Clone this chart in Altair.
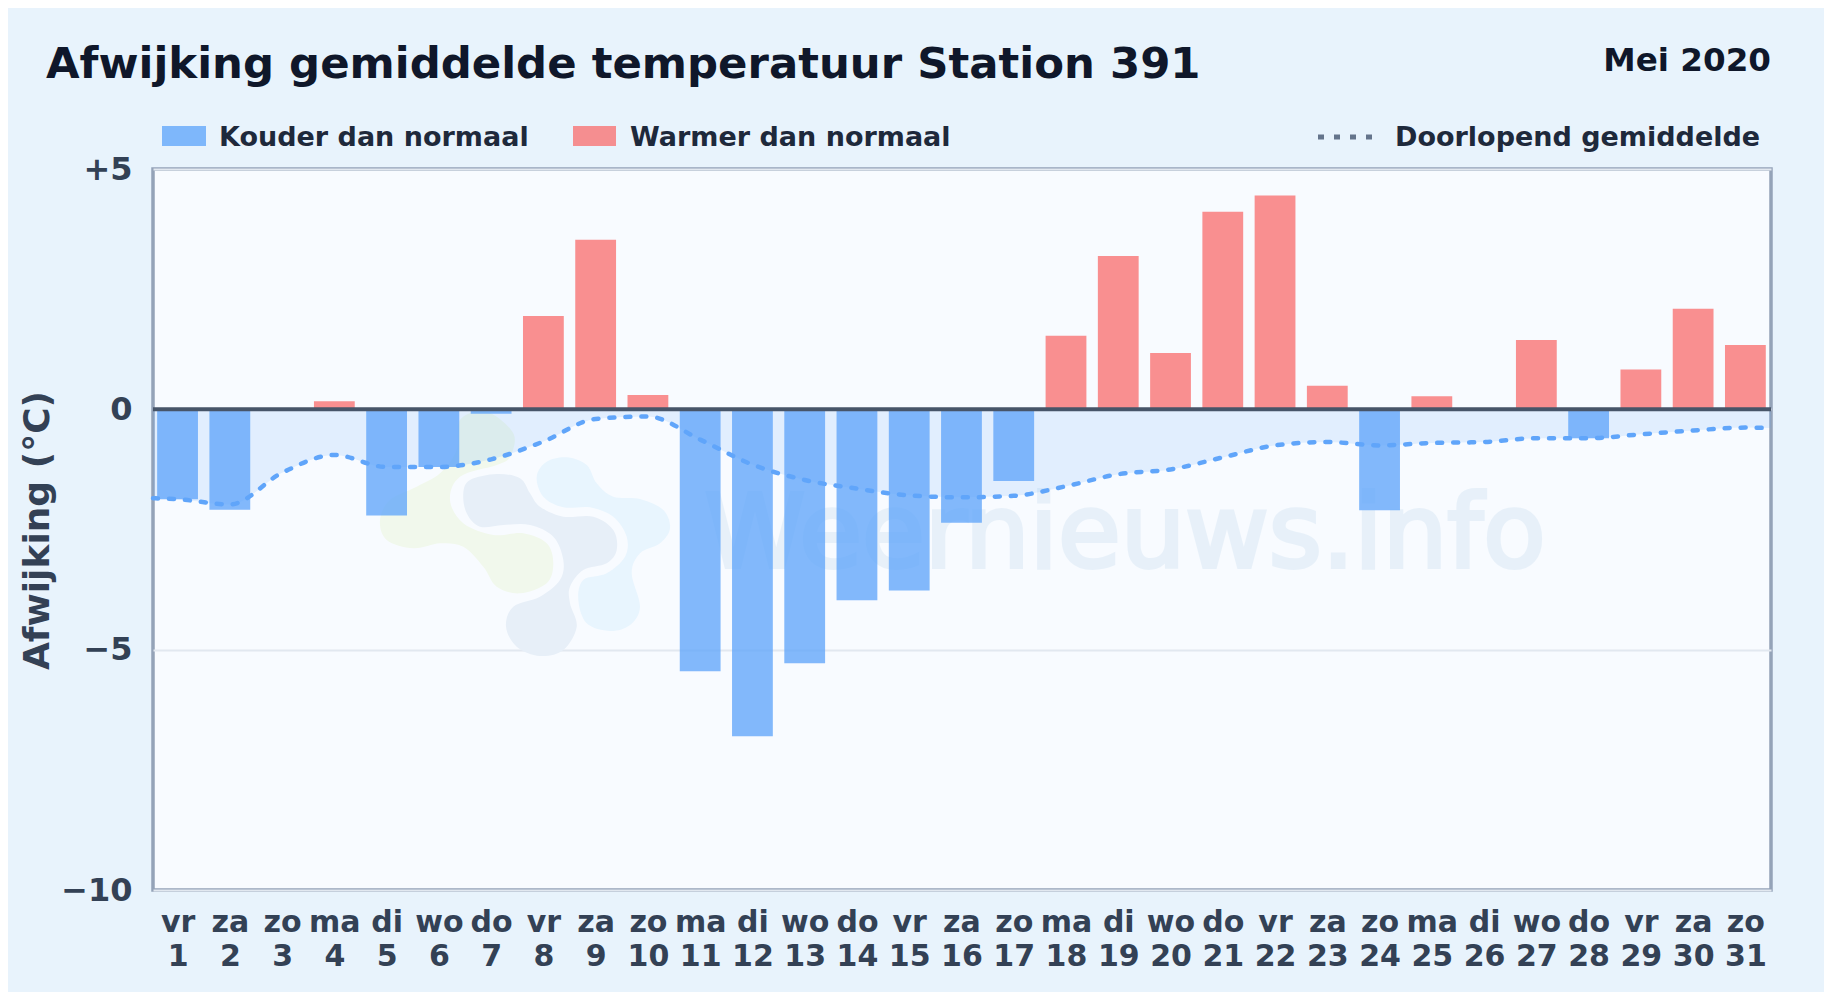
import altair as alt
import pandas as pd

days = list(range(1, 32))
weekdays = ["vr","za","zo","ma","di","wo","do","vr","za","zo","ma","di","wo","do","vr","za","zo","ma","di","wo","do","vr","za","zo","ma","di","wo","do","vr","za","zo"]
anomaly = [-1.87,-2.09,0.0,0.17,-2.21,-1.2,-0.09,1.94,3.53,0.3,-5.45,-6.8,-5.28,-3.97,-3.77,-2.36,-1.49,1.53,3.19,1.17,4.11,4.45,0.49,-2.1,0.27,0.0,1.44,-0.6,0.83,2.09,1.34]
running_mean = [-1.87,-1.98,-1.32,-0.95,-1.2,-1.2,-1.04,-0.67,-0.2,-0.15,-0.63,-1.15,-1.47,-1.65,-1.79,-1.83,-1.8,-1.6,-1.35,-1.25,-1.0,-0.75,-0.68,-0.75,-0.7,-0.68,-0.6,-0.6,-0.52,-0.44,-0.38]
mean_days = [0.53] + days + [31.49]
mean_values = [-1.85] + running_mean + [-0.39]
cold_label = "Kouder dan normaal"
warm_label = "Warmer dan normaal"
mean_label = "Doorlopend gemiddelde"
title_text = "Afwijking gemiddelde temperatuur Station 391"
period_text = "Mei 2020"
watermark_text = "Weernieuws.info"

FONT = "DejaVu Sans"
PL, PT = 153, 169
W, H = 1618, 721

bars = pd.DataFrame({"day": days, "value": anomaly})
bars["kind"] = [warm_label if v > 0 else cold_label for v in anomaly]
mean_df = pd.DataFrame({"day": mean_days, "value": mean_values})

x_scale = alt.Scale(domain=[0.53, 31.49], nice=False, zero=False, padding=0)
y_scale = alt.Scale(domain=[-10, 5], nice=False, zero=False)
names = "[" + ",".join(f"'{d}'" for d in weekdays) + "]"
x_axis = alt.Axis(values=days, title=None, grid=False, ticks=False, domain=False,
                  labelExpr=f"[{names}[datum.value-1], ''+datum.value]",
                  labelFont=FONT, labelFontSize=30, labelFontWeight="bold", labelColor="#334155",
                  labelLineHeight=34, labelPadding=17, labelOverlap=False, labelFlush=False, labelBound=False,
                  labelAngle=0)
y_axis = alt.Axis(values=[-10, -5, 0, 5], title="Afwijking (°C)", grid=True, gridColor="#e2e8f0", gridWidth=2,
                  ticks=False, domain=False,
                  labelExpr="datum.value>0?'+'+datum.value:(datum.value<0?'−'+(-datum.value):'0')",
                  labelFont=FONT, labelFontSize=32, labelFontWeight="bold", labelColor="#334155",
                  labelPadding=21, labelFlush=False, labelBound=False, labelOverlap=False,
                  titleFont=FONT, titleFontSize=36, titleFontWeight="bold", titleColor="#334155",
                  titleX=-97, titleY=361)
X = alt.X("day:Q", scale=x_scale, axis=x_axis)
Y = alt.Y("value:Q", scale=y_scale, axis=y_axis)


def blob(points, ox=350, oy=400, k=1 / 3, cx=500, cy=550):
    """Closed smooth outline as an SVG path, relative to (cx, cy)."""
    p = [(ox + a * k - cx, oy + b * k - cy) for a, b in points]
    n = len(p)
    s = f"M{p[0][0]:.1f},{p[0][1]:.1f}"
    for i in range(n):
        p0, p1, p2, p3 = p[i - 1], p[i], p[(i + 1) % n], p[(i + 2) % n]
        c1 = (p1[0] + (p2[0] - p0[0]) / 6, p1[1] + (p2[1] - p0[1]) / 6)
        c2 = (p2[0] - (p3[0] - p1[0]) / 6, p2[1] - (p3[1] - p1[1]) / 6)
        s += f"C{c1[0]:.1f},{c1[1]:.1f},{c2[0]:.1f},{c2[1]:.1f},{p2[0]:.1f},{p2[1]:.1f}"
    return s + "Z"


logo_green = [(330,60),(410,35),(490,100),(480,170),(440,195),(330,230),(300,300),(340,370),(430,405),(520,400),(590,430),(610,490),(590,550),(510,580),(440,560),(400,500),(340,440),(270,430),(190,445),(110,420),(90,360),(120,300),(200,260),(270,220),(320,150)]
logo_slate = [(340,280),(360,240),(440,222),(510,235),(540,280),(570,320),(640,350),(730,350),(790,390),(800,450),(770,490),(700,510),(660,560),(660,610),(680,680),(640,750),(570,768),(500,740),(468,680),(490,620),(570,590),(630,540),(640,480),(610,410),(540,375),(460,375),(390,380),(350,340)]
logo_blue = [(560,230),(590,185),(650,172),(710,195),(740,250),(790,290),(870,297),(940,330),(960,385),(930,430),(870,460),(845,520),(870,620),(840,675),(780,693),(710,670),(685,600),(700,540),(770,520),(825,470),(830,410),(790,350),(720,322),(640,322),(580,290)]

one = pd.DataFrame({"n": [0]})


def logo_part(points, color):
    return alt.Chart(one).mark_point(shape=blob(points), size=4, filled=True, fill=color, opacity=1, strokeWidth=0).encode(
        x=alt.value(500 - PL), y=alt.value(550 - PT))


def text_at(txt, px, py, size, color, align="left", weight="bold", baseline="middle", **kw):
    return alt.Chart(pd.DataFrame({"t": [txt]})).mark_text(
        font=FONT, fontSize=size, fontWeight=weight, color=color, align=align, baseline=baseline, **kw
    ).encode(text="t:N", x=alt.value(px - PL), y=alt.value(py - PT))


def swatch(px0, px1, py0, py1, color):
    return alt.Chart(one).mark_rect(color=color, opacity=0.78).encode(
        x=alt.value(px0 - PL), x2=alt.value(px1 - PL), y=alt.value(py0 - PT), y2=alt.value(py1 - PT))


area = alt.Chart(mean_df).mark_area(color="#60a5fa", opacity=0.15, interpolate="monotone").encode(
    x=X, y=Y, y2=alt.datum(0))
bar_layer = alt.Chart(bars).mark_bar(size=40.8, opacity=0.78).encode(
    x=X, y=Y, y2=alt.datum(0),
    color=alt.Color("kind:N", legend=None, scale=alt.Scale(domain=[cold_label, warm_label], range=["#60a5fa", "#f87171"])))
zero = alt.Chart(one).mark_rule(color="#475569", strokeWidth=4).encode(y=alt.Y(datum=0, scale=y_scale, axis=y_axis))
line = alt.Chart(mean_df).mark_line(color="#60a5fa", strokeWidth=4.5, strokeDash=[5, 11], strokeCap="round", interpolate="monotone").encode(
    x=X, y=Y)
legend_dots = alt.Chart(one).mark_rule(color="#64748b", strokeWidth=5, strokeDash=[6, 10]).encode(
    x=alt.value(1318 - PL), x2=alt.value(1375 - PL), y=alt.value(137 - PT))

chart = alt.layer(
    logo_part(logo_green, "#f1f8ec"),
    logo_part(logo_slate, "#e7eff8"),
    logo_part(logo_blue, "#e8f5fe"),
    text_at(watermark_text, 1125, 536, 102, "#2f7fc0", align="center", weight="normal", opacity=0.08,
            stroke="#2f7fc0", strokeWidth=4),
    area, bar_layer, zero, line,
    swatch(162, 206, 126, 146, "#60a5fa"),
    text_at(cold_label, 219, 138, 27, "#1e293b"),
    swatch(573, 616, 126, 146, "#f87171"),
    text_at(warm_label, 630, 138, 27, "#1e293b"),
    legend_dots,
    text_at(mean_label, 1395, 138, 27, "#1e293b"),
    text_at(period_text, 1771, 61, 32.6, "#0f172a", align="right"),
    text_at(title_text, 46, 78, 43.4, "#0f172a", baseline="alphabetic"),
).properties(
    width=W, height=H,
    background="#e8f3fc",
    padding={"left": PL - 8, "top": PT - 8, "right": 1816 - (PL - 8) - W, "bottom": 984 - (PT - 8) - H},
    autosize=alt.AutoSizeParams(type="none", contains="content"),
).configure_view(fill="#f8fbff", stroke="#94a3b8", strokeWidth=3.5)

chart.save("out.html", embed_options={"renderer": "svg", "actions": False})
